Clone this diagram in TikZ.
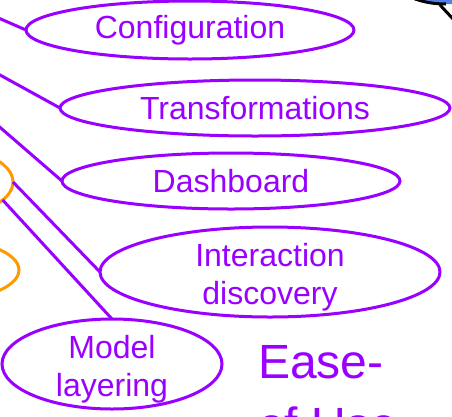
\documentclass[tikz,border=0pt]{standalone}
\usepackage{fontspec}
\setmainfont{Liberation Sans}
\usepackage{xcolor}
\usetikzlibrary{shapes.geometric}
\definecolor{mmpurple}{RGB}{153,0,255}
\definecolor{mmorange}{RGB}{255,153,0}
\definecolor{mmblue}{RGB}{79,129,232}

\begin{document}
\begin{tikzpicture}[x=1pt,y=-1pt,
    topic/.style={ellipse,draw=mmpurple,line width=3pt,fill=white,text=mmpurple,
      inner xsep=0pt,inner ysep=-3pt,outer sep=0pt,align=center,
      font=\fontsize{32}{38}\selectfont},
    hub/.style={ellipse,draw=mmorange,line width=3pt,fill=white,inner sep=0pt,outer sep=0pt},
    link/.style={draw=mmpurple,line width=3pt}]
    \useasboundingbox (0,0) rectangle (452,416);
    \clip (0,0) rectangle (452,416);

    % cloud at the top right
    \fill[mmblue] (396,-10) .. controls (412,-1) and (426,4) .. (446,4) -- (460,4) -- (460,-10) -- cycle;
    \draw[line width=3pt] (396,-10) .. controls (412,-1) and (426,4) .. (446,4);
    \draw[line width=3pt] (440,5) -- (454,20);

    % hubs on the left
    \node[hub, minimum width=146pt, minimum height=70pt] (hubtop) at (-60,182) {};
    \node[hub, minimum width=158pt, minimum height=62pt] (hublow) at (-60,270) {};
    \coordinate (c1) at (-20,10);
    \coordinate (c2) at (-20,64);
    \coordinate (c3) at (-20,110);

    % topics
    \node[topic, minimum width=328pt, minimum height=58pt] (config) at (190,30) {Configuration};
    \node[topic, minimum width=390pt, minimum height=56pt] (trans) at (255,108) {Transformations};
    \node[topic, minimum width=338pt, minimum height=56pt] (dash) at (231,181) {Dashboard};
    \node[topic, inner ysep=-9pt, minimum width=340pt, minimum height=90pt] (interact) at (270,272)
      {\rule{0pt}{33pt}Interaction\\discovery};
    \node[topic, inner ysep=-9pt, minimum width=220pt, minimum height=90pt] (layering) at (112,364)
      {\rule{0pt}{33pt}Model\\layering};

    \draw[link] (c1) -- (config.west);
    \draw[link] (c2) -- (trans.west);
    \draw[link] (c3) -- (dash.west);
    \draw[link] (hubtop.east) -- (interact.west);
    \draw[link] (hubtop.-16) -- (layering.north);

    % heading
    \node[anchor=north west, inner sep=0pt, align=left, text=mmpurple,
      font=\fontsize{48}{63}\selectfont] (ease) at (258,345) {Ease-\\of Use};
\end{tikzpicture}
\end{document}
